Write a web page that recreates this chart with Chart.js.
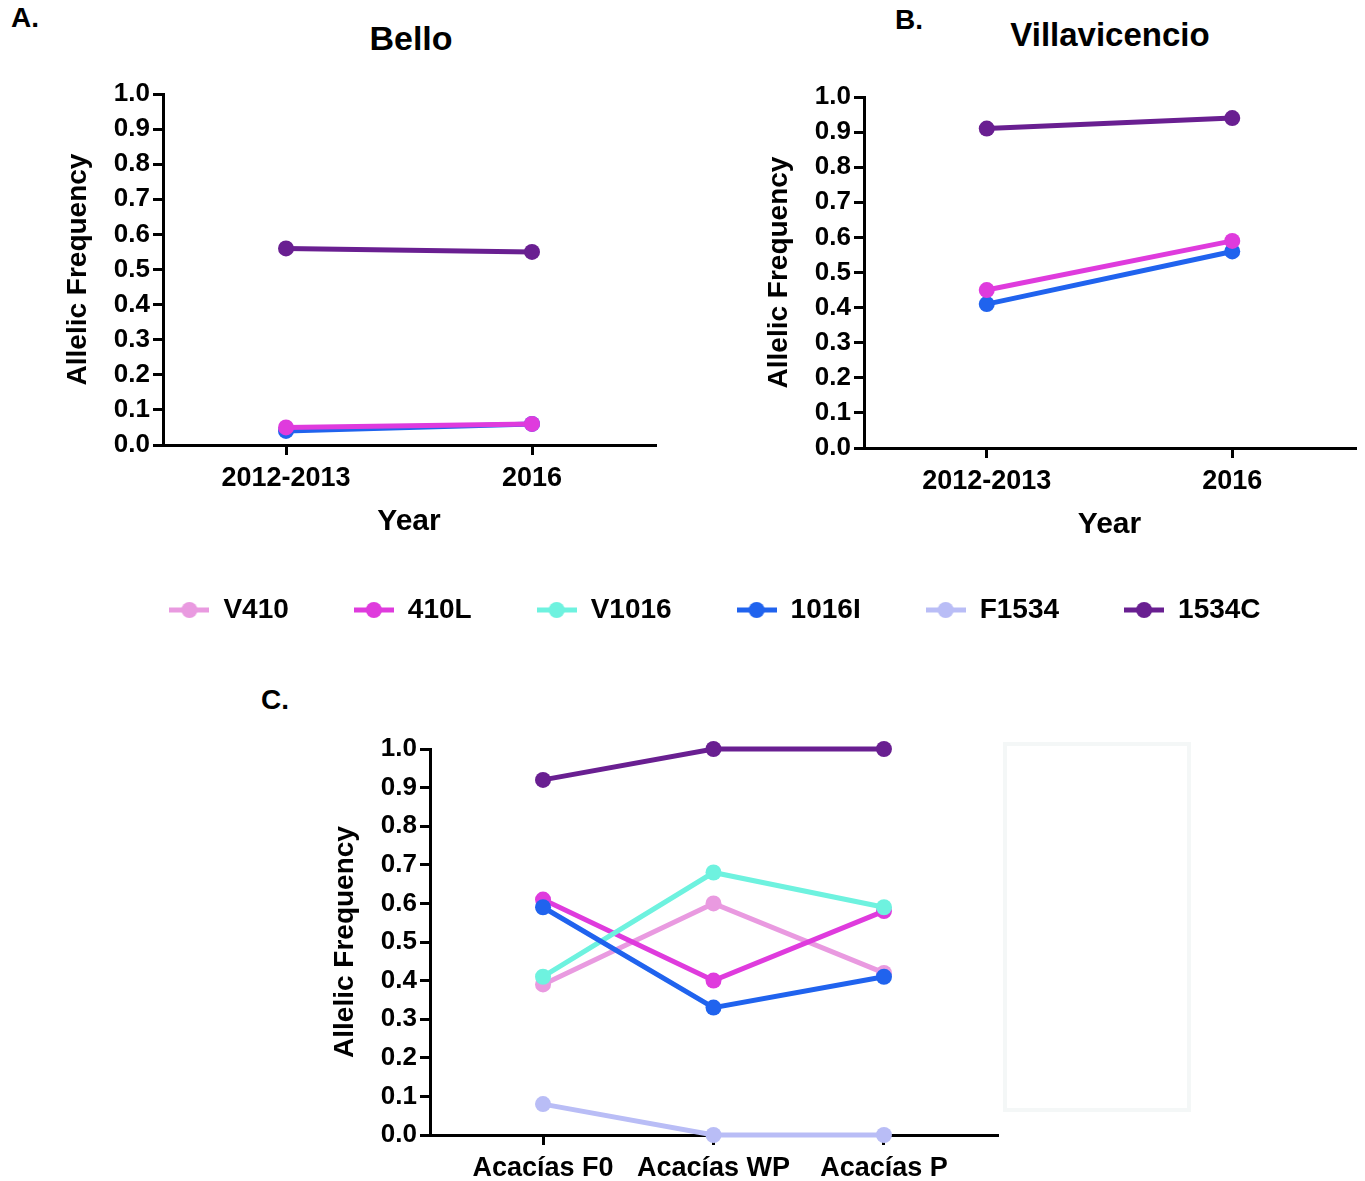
<!DOCTYPE html>
<html lang="es">
<head>
    <meta charset="UTF-8">
    <title>Allelic Frequency</title>
    <script src="https://cdn.jsdelivr.net/npm/chart.js"></script>
    <style>
        body {
            margin: 0;
            background: #fff;
            font-family: "Liberation Sans", Arial, sans-serif;
        }
        #page {
            position: relative;
            width: 1365px;
            height: 1181px;
            overflow: hidden;
        }
        .box {
            position: absolute;
        }
        .txt {
            position: absolute;
            font-weight: bold;
            color: #000;
            white-space: nowrap;
        }
        .center {
            transform: translate(-50%, -50%);
        }
        #ghost {
            position: absolute;
            left: 1003px;
            top: 742px;
            width: 180px;
            height: 362px;
            border: 4px solid #f4f7f7;
        }
    </style>
</head>
<body>
<div id="page">
    <div class="txt" style="left:11px; top:2px; font-size:28px;">A.</div>
    <div class="txt" style="left:895px; top:4px; font-size:28px;">B.</div>
    <div class="txt" style="left:261px; top:684px; font-size:28px;">C.</div>
    <div class="txt center" style="left:411px; top:38px; font-size:34px;">Bello</div>
    <div class="txt center" style="left:1110px; top:35px; font-size:33px;">Villavicencio</div>
    <div id="ghost"></div>

    <div class="box" style="left:0px; top:0px; width:680px; height:545px;"><canvas id="chartA"></canvas></div>
    <div class="box" style="left:700px; top:3px; width:665px; height:545px;"><canvas id="chartB"></canvas></div>
    <div class="box" style="left:0px; top:531px; width:1365px; height:400px;"><canvas id="legendChart"></canvas></div>
    <div class="box" style="left:250px; top:660px; width:800px; height:521px;"><canvas id="chartC"></canvas></div>
</div>

<script>
    // series
    const seriesNames = ['V410', '410L', 'V1016', '1016I', 'F1534', '1534C'];
    const seriesColors = ['#E99AE0', '#DF3BDD', '#6EF2DF', '#2063EE', '#B9BDF6', '#691F91'];

    // categories
    const yearLabels = ['2012-2013', '2016'];
    const siteLabels = ['Acacías F0', 'Acacías WP', 'Acacías P'];

    // y axis ticks
    const yMin = 0;
    const yMax = 1;
    const yStep = 0.1;

    // A. Bello (only 410L, 1016I, 1534C measured)
    const belloV410 = [null, null];
    const bello410L = [0.05, 0.06];
    const belloV1016 = [null, null];
    const bello1016I = [0.04, 0.06];
    const belloF1534 = [null, null];
    const bello1534C = [0.56, 0.55];

    // B. Villavicencio
    const villaV410 = [null, null];
    const villa410L = [0.45, 0.59];
    const villaV1016 = [null, null];
    const villa1016I = [0.41, 0.56];
    const villaF1534 = [null, null];
    const villa1534C = [0.91, 0.94];

    // C. Acacías
    const acaciasV410 = [0.39, 0.60, 0.42];
    const acacias410L = [0.61, 0.40, 0.58];
    const acaciasV1016 = [0.41, 0.68, 0.59];
    const acacias1016I = [0.59, 0.33, 0.41];
    const acaciasF1534 = [0.08, 0.00, 0.00];
    const acacias1534C = [0.92, 1.00, 1.00];

    Chart.defaults.font.family = '"Liberation Sans", Arial, sans-serif';
    Chart.defaults.font.weight = 'bold';
    Chart.defaults.color = '#000';
    Chart.defaults.animation = false;

    const Y_AXIS_W = 105;

    function makeDatasets(valueLists, reverseOrder) {
        return valueLists.map((vals, i) => ({
            label: seriesNames[i],
            data: vals,
            borderColor: seriesColors[i],
            backgroundColor: seriesColors[i],
            pointBackgroundColor: seriesColors[i],
            pointBorderWidth: 0,
            pointRadius: 8,
            borderWidth: 5,
            tension: 0,
            clip: false,
            order: reverseOrder ? -i : i
        }));
    }

    function yScale() {
        return {
            min: yMin,
            max: yMax,
            afterFit: s => { s.width = Y_AXIS_W; },
            border: { color: '#000', width: 3 },
            grid: { drawOnChartArea: false, drawTicks: true, tickLength: 10, color: '#000', lineWidth: 3 },
            ticks: {
                stepSize: yStep,
                padding: 3,
                font: { size: 26, weight: 'bold' },
                callback: v => v.toFixed(1)
            },
            title: {
                display: true,
                text: 'Allelic Frequency',
                font: { size: 28, weight: 'bold' },
                padding: { top: 3, bottom: 0 }
            }
        };
    }

    function yearChart(id, valueLists, padding) {
        new Chart(document.getElementById(id), {
            type: 'line',
            data: { labels: yearLabels, datasets: makeDatasets(valueLists, false) },
            options: {
                responsive: true,
                maintainAspectRatio: false,
                layout: { padding: padding },
                plugins: { legend: { display: false }, tooltip: { enabled: false } },
                scales: {
                    x: {
                        type: 'category',
                        offset: true,
                        afterFit: s => { s.height = 100; },
                        border: { color: '#000', width: 3 },
                        grid: { offset: false, drawOnChartArea: false, drawTicks: true, tickLength: 10, color: '#000', lineWidth: 3 },
                        ticks: { padding: 7, font: { size: 27, weight: 'bold' } },
                        title: {
                            display: true,
                            text: 'Year',
                            font: { size: 30, weight: 'bold' },
                            padding: { top: 0, bottom: 5 }
                        }
                    },
                    y: yScale()
                }
            }
        });
    }

    yearChart('chartA',
        [belloV410, bello410L, belloV1016, bello1016I, belloF1534, bello1534C],
        { left: 58, top: 94, right: 25, bottom: 0 });

    yearChart('chartB',
        [villaV410, villa410L, villaV1016, villa1016I, villaF1534, villa1534C],
        { left: 59, top: 94, right: 10, bottom: 0 });

    // C uses a linear x so the end padding matches the original
    const acaciasLists = [acaciasV410, acacias410L, acaciasV1016, acacias1016I, acaciasF1534, acacias1534C];
    const cDatasets = makeDatasets(acaciasLists.map(vals => vals.map((v, i) => ({ x: i, y: v }))), true);

    new Chart(document.getElementById('chartC'), {
        type: 'line',
        data: { datasets: cDatasets },
        options: {
            responsive: true,
            maintainAspectRatio: false,
            layout: { padding: { left: 75, top: 89, right: 53, bottom: 0 } },
            plugins: { legend: { display: false }, tooltip: { enabled: false } },
            scales: {
                x: {
                    type: 'linear',
                    min: -0.663,
                    max: siteLabels.length - 1 + 0.663,
                    afterBuildTicks: s => { s.ticks = siteLabels.map((_, i) => ({ value: i })); },
                    afterFit: s => { s.height = 46; },
                    border: { color: '#000', width: 3 },
                    grid: { drawOnChartArea: false, drawTicks: true, tickLength: 10, color: '#000', lineWidth: 3 },
                    ticks: {
                        padding: 7,
                        maxRotation: 0,
                        autoSkip: false,
                        font: { size: 27, weight: 'bold' },
                        callback: v => siteLabels[v]
                    }
                },
                y: yScale()
            }
        }
    });

    // shared legend: a line with a dot for each series
    function legendMark(color) {
        const c = document.createElement('canvas');
        c.width = 40;
        c.height = 18;
        const g = c.getContext('2d');
        g.strokeStyle = color;
        g.lineWidth = 5;
        g.beginPath();
        g.moveTo(0, 9);
        g.lineTo(40, 9);
        g.stroke();
        g.fillStyle = color;
        g.beginPath();
        g.arc(20, 9, 8, 0, Math.PI * 2);
        g.fill();
        return c;
    }

    new Chart(document.getElementById('legendChart'), {
        type: 'line',
        data: {
            labels: [],
            datasets: seriesNames.map((name, i) => ({ label: name, data: [], borderColor: seriesColors[i], backgroundColor: seriesColors[i] }))
        },
        options: {
            responsive: true,
            maintainAspectRatio: false,
            layout: { padding: { left: 65, top: 0, right: 0, bottom: 0 } },
            scales: { x: { display: false }, y: { display: false } },
            plugins: {
                tooltip: { enabled: false },
                legend: {
                    display: true,
                    position: 'top',
                    labels: {
                        usePointStyle: true,
                        pointStyleWidth: 40,
                        padding: 65,
                        color: '#000',
                        font: { size: 28, weight: 'bold' },
                        generateLabels: chart => chart.data.datasets.map((ds, i) => ({
                            text: ds.label,
                            fillStyle: seriesColors[i],
                            strokeStyle: seriesColors[i],
                            lineWidth: 0,
                            pointStyle: legendMark(seriesColors[i]),
                            hidden: false,
                            datasetIndex: i
                        }))
                    }
                }
            }
        }
    });
</script>
</body>
</html>
